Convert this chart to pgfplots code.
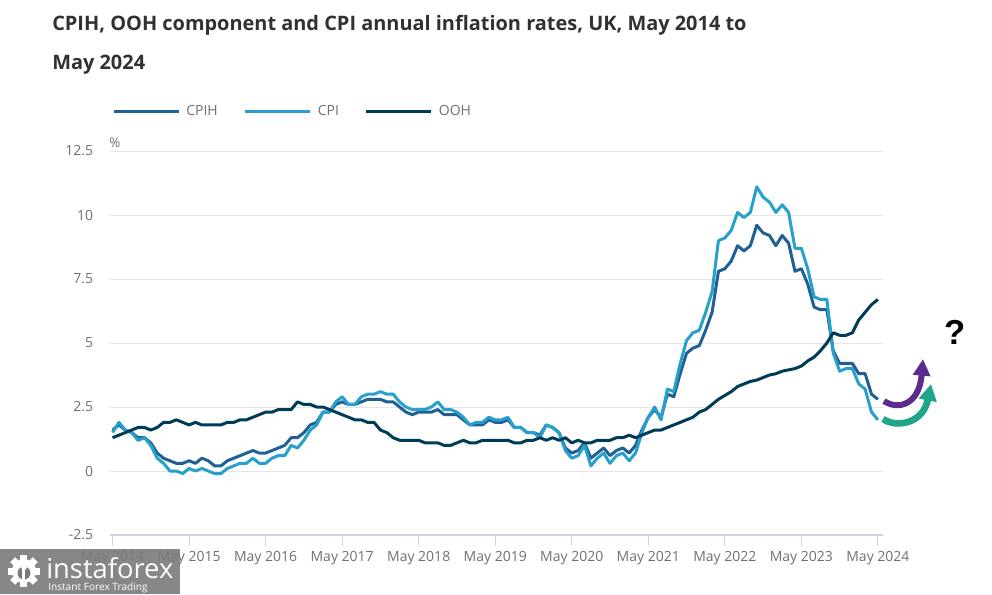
\documentclass[border=0pt]{standalone}
\usepackage{fontspec}
\setmainfont{Open Sans}
\newfontfamily\arialfont{Liberation Sans}
\usepackage{pgfplots}
\pgfplotsset{compat=1.18}
\usetikzlibrary{arrows.meta}
\definecolor{cpih}{HTML}{206095}
\definecolor{cpi}{HTML}{27A0CC}
\definecolor{ooh}{HTML}{003C57}
\definecolor{tickgray}{HTML}{707070}
\definecolor{gridgray}{HTML}{E6E6E6}
\definecolor{axisgray}{HTML}{D0D3E2}
\definecolor{titlecol}{HTML}{323132}
\definecolor{arrowpurple}{HTML}{5B2C8C}
\definecolor{arrowgreen}{HTML}{1FA58A}
\definecolor{wmgray}{HTML}{7A7A7A}
\tikzset{px/.style={x=0.75pt,y=-0.75pt,shift={(-82.5pt,401.25pt)}}}
\begin{document}
\begin{tikzpicture}
\begin{scope}[px]
\path[use as bounding box] (0,0) rectangle (992,594);
\node[anchor=base west, inner sep=0pt, text=titlecol, font=\fontsize{14.95}{18}\selectfont\bfseries] at (52,31) {CPIH, OOH component and CPI annual inflation rates, UK, May 2014 to};
\node[anchor=base west, inner sep=0pt, text=titlecol, font=\fontsize{14.95}{18}\selectfont\bfseries] at (52,70) {May 2024};
\node[anchor=west, inner sep=0pt, text=tickgray, font=\fontsize{10}{12}\selectfont] at (109,143) {\%};
\end{scope}
\begin{axis}[
 at={(0pt,0pt)}, anchor=south west,
 scale only axis, width=579.75pt, height=288pt,
 xmin=-0.4, xmax=120.8, ymin=-2.5, ymax=12.5,
 axis line style={draw=none},
 ymajorgrids, grid style={gridgray, line width=0.75pt},
 xtick={0,12,...,120},
 xticklabels={May 2014,May 2015,May 2016,May 2017,May 2018,May 2019,May 2020,May 2021,May 2022,May 2023,May 2024},
 ytick={-2.5,0,2.5,5,7.5,10,12.5},
 yticklabels={-2.5,0,2.5,5,7.5,10,12.5},
 xtick pos=left,
 ytick style={draw=none},
 tick align=outside,
 xtick style={axisgray, line width=0.75pt},
 major tick length=8.5pt,
 tick label style={font=\fontsize{10.5}{12}\selectfont, text=tickgray},
 yticklabel style={inner sep=0pt, xshift=-4pt},
 legend style={draw=none, fill=none, at={(axis description cs:0.0026,1.104)}, anchor=west,
   font=\fontsize{10.5}{12}\selectfont, text=tickgray, inner sep=0pt,
   nodes={inner sep=0pt},
   /tikz/every odd column/.append style={column sep=4.5pt},
   /tikz/every even column/.append style={column sep=19.5pt}},
 legend columns=3, legend cell align=left,
 legend image code/.code={\draw[#1] (0pt,0pt) -- (48.75pt,0pt);},
 every axis plot/.append style={line width=2.25pt, line join=round, no markers},
]
\addplot[cpih] coordinates {
(0,1.6)(1,1.8)(2,1.6)(3,1.5)(4,1.3)(5,1.3)(6,1.1)(7,0.7)
(8,0.5)(9,0.4)(10,0.3)(11,0.3)(12,0.4)(13,0.3)(14,0.5)(15,0.4)(16,0.2)(17,0.2)(18,0.4)(19,0.5)
(20,0.6)(21,0.7)(22,0.8)(23,0.7)(24,0.7)(25,0.8)(26,0.9)(27,1.0)(28,1.3)(29,1.3)(30,1.5)(31,1.8)
(32,1.9)(33,2.3)(34,2.3)(35,2.6)(36,2.7)(37,2.6)(38,2.6)(39,2.7)(40,2.8)(41,2.8)(42,2.8)(43,2.7)
(44,2.7)(45,2.5)(46,2.3)(47,2.2)(48,2.3)(49,2.3)(50,2.3)(51,2.4)(52,2.2)(53,2.2)(54,2.2)(55,2.0)
(56,1.8)(57,1.8)(58,1.8)(59,2.0)(60,1.9)(61,1.9)(62,2.0)(63,1.7)(64,1.7)(65,1.5)(66,1.5)(67,1.4)
(68,1.8)(69,1.7)(70,1.5)(71,0.9)(72,0.7)(73,0.8)(74,1.1)(75,0.5)(76,0.7)(77,0.9)(78,0.6)(79,0.8)
(80,0.9)(81,0.7)(82,1.0)(83,1.6)(84,2.1)(85,2.4)(86,2.1)(87,3.0)(88,2.9)(89,3.8)(90,4.6)(91,4.8)
(92,4.9)(93,5.5)(94,6.2)(95,7.8)(96,7.9)(97,8.2)(98,8.8)(99,8.6)(100,8.8)(101,9.6)(102,9.3)(103,9.2)
(104,8.8)(105,9.2)(106,8.9)(107,7.8)(108,7.9)(109,7.3)(110,6.4)(111,6.3)(112,6.3)(113,4.7)(114,4.2)(115,4.2)
(116,4.2)(117,3.8)(118,3.8)(119,3.0)(120,2.8)};
\addlegendentry{CPIH}
\addplot[cpi] coordinates {
(0,1.5)(1,1.9)(2,1.6)(3,1.5)(4,1.2)(5,1.3)(6,1.0)(7,0.5)
(8,0.3)(9,0.0)(10,0.0)(11,-0.1)(12,0.1)(13,0.0)(14,0.1)(15,0.0)(16,-0.1)(17,-0.1)(18,0.1)(19,0.2)
(20,0.3)(21,0.3)(22,0.5)(23,0.3)(24,0.3)(25,0.5)(26,0.6)(27,0.6)(28,1.0)(29,0.9)(30,1.2)(31,1.6)
(32,1.8)(33,2.3)(34,2.3)(35,2.7)(36,2.9)(37,2.6)(38,2.6)(39,2.9)(40,3.0)(41,3.0)(42,3.1)(43,3.0)
(44,3.0)(45,2.7)(46,2.5)(47,2.4)(48,2.4)(49,2.4)(50,2.5)(51,2.7)(52,2.4)(53,2.4)(54,2.3)(55,2.1)
(56,1.8)(57,1.9)(58,1.9)(59,2.1)(60,2.0)(61,2.0)(62,2.1)(63,1.7)(64,1.7)(65,1.5)(66,1.5)(67,1.3)
(68,1.8)(69,1.7)(70,1.5)(71,0.8)(72,0.5)(73,0.6)(74,1.0)(75,0.2)(76,0.5)(77,0.7)(78,0.3)(79,0.6)
(80,0.7)(81,0.4)(82,0.7)(83,1.5)(84,2.1)(85,2.5)(86,2.0)(87,3.2)(88,3.1)(89,4.2)(90,5.1)(91,5.4)
(92,5.5)(93,6.2)(94,7.0)(95,9.0)(96,9.1)(97,9.4)(98,10.1)(99,9.9)(100,10.1)(101,11.1)(102,10.7)(103,10.5)
(104,10.1)(105,10.4)(106,10.1)(107,8.7)(108,8.7)(109,7.9)(110,6.8)(111,6.7)(112,6.7)(113,4.6)(114,3.9)(115,4.0)
(116,4.0)(117,3.4)(118,3.2)(119,2.3)(120,2.0)};
\addlegendentry{CPI}
\addplot[ooh] coordinates {
(0,1.3)(1,1.4)(2,1.5)(3,1.6)(4,1.7)(5,1.7)(6,1.6)(7,1.7)
(8,1.9)(9,1.9)(10,2.0)(11,1.9)(12,1.8)(13,1.9)(14,1.8)(15,1.8)(16,1.8)(17,1.8)(18,1.9)(19,1.9)
(20,2.0)(21,2.0)(22,2.1)(23,2.2)(24,2.3)(25,2.3)(26,2.4)(27,2.4)(28,2.4)(29,2.7)(30,2.6)(31,2.6)
(32,2.5)(33,2.5)(34,2.4)(35,2.3)(36,2.2)(37,2.1)(38,2.0)(39,2.0)(40,1.9)(41,1.9)(42,1.6)(43,1.5)
(44,1.3)(45,1.2)(46,1.2)(47,1.2)(48,1.2)(49,1.1)(50,1.1)(51,1.1)(52,1.0)(53,1.0)(54,1.1)(55,1.2)
(56,1.1)(57,1.1)(58,1.2)(59,1.2)(60,1.2)(61,1.2)(62,1.2)(63,1.1)(64,1.1)(65,1.2)(66,1.2)(67,1.3)
(68,1.2)(69,1.3)(70,1.2)(71,1.3)(72,1.1)(73,1.2)(74,1.1)(75,1.1)(76,1.2)(77,1.2)(78,1.2)(79,1.3)
(80,1.3)(81,1.4)(82,1.3)(83,1.4)(84,1.5)(85,1.6)(86,1.6)(87,1.7)(88,1.8)(89,1.9)(90,2.0)(91,2.1)
(92,2.3)(93,2.4)(94,2.6)(95,2.8)(96,2.95)(97,3.1)(98,3.3)(99,3.4)(100,3.5)(101,3.55)(102,3.65)(103,3.75)
(104,3.8)(105,3.9)(106,3.95)(107,4.0)(108,4.1)(109,4.3)(110,4.45)(111,4.7)(112,5.0)(113,5.4)(114,5.3)(115,5.3)
(116,5.4)(117,5.9)(118,6.2)(119,6.5)(120,6.7)};
\addlegendentry{OOH}
\draw[axisgray, line width=1.5pt] (rel axis cs:0,0) -- (rel axis cs:1,0);
\end{axis}
\begin{scope}[px]
\draw[arrowpurple, line width=4.5pt, -{Triangle[length=12.5pt,width=12.5pt]}] (884,401) .. controls (897,410) and (919,406) .. (923,359);
\draw[arrowgreen, line width=5pt, -{Triangle[length=12.5pt,width=13pt]}] (883,419) .. controls (896,428) and (923,424) .. (931,384);
\node[font=\arialfont\fontsize{26}{30}\selectfont\bfseries, inner sep=0pt] at (955,332) {?};
\fill[wmgray, opacity=0.9] (0,549) rectangle (180,594);
\begin{scope}[shift={(24,571)}]
\fill[white] (0,0) circle (12);
\foreach \a in {0,45,...,315} {\fill[white, rotate=\a] (-3.5,-16) rectangle (3.5,-9);}
\fill[wmgray] (0,2) circle (6.5);
\fill[white] (0,-4) circle (3);
\fill[white] (-1.5,-2) rectangle (1.5,10);
\end{scope}
\node[anchor=base west, inner sep=0pt, text=white, font=\fontsize{20.5}{22}\selectfont] at (46,578) {instaforex};
\node[anchor=base west, inner sep=0pt, text=white, font=\fontsize{7.6}{9}\selectfont] at (48,590) {Instant Forex Trading};
\end{scope}
\end{tikzpicture}
\end{document}
